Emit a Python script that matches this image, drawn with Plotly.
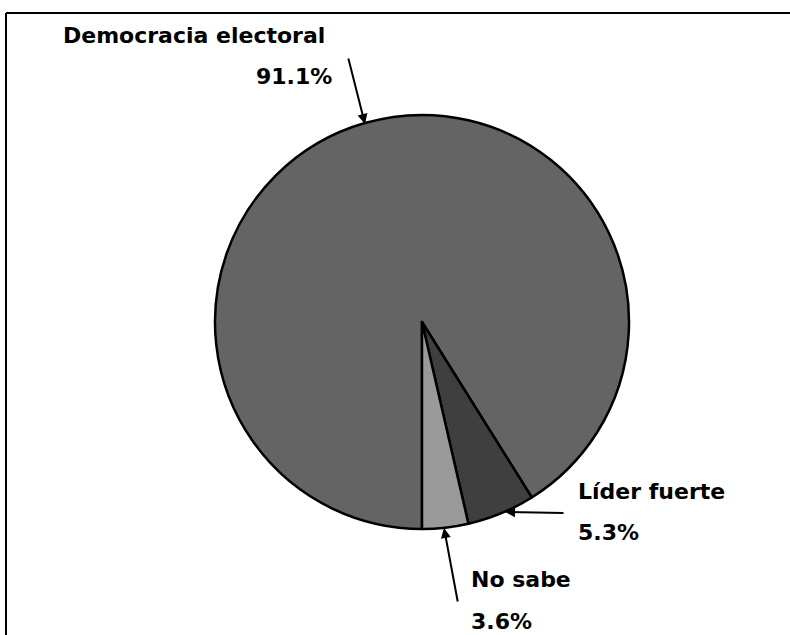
import plotly.graph_objects as go

# Data (clockwise from 6 o'clock)
categories = ["Democracia electoral", "Líder fuerte", "No sabe"]
values = [91.1, 5.3, 3.6]
value_labels = ["91.1%", "5.3%", "3.6%"]
colors = ["#646464", "#3f3f3f", "#9a9a9a"]

W, H = 790, 635
def px(x):
    return x / W
def py(y):
    return 1 - y / H

cx, cy, R = 422, 322, 207

fig = go.Figure()
fig.add_trace(go.Pie(
    labels=categories,
    values=values,
    sort=False,
    direction="clockwise",
    rotation=180,
    textinfo="none",
    hoverinfo="label+percent",
    marker=dict(colors=colors, line=dict(color="black", width=2.5)),
    domain=dict(x=[px(cx - R), px(cx + R)], y=[py(cy + R), py(cy - R)]),
    showlegend=False,
))

font = dict(family="DejaVu Sans", size=22, color="black")

annotations = []
def label(text, x, y, anchor="left"):
    annotations.append(dict(text="<b>" + text + "</b>", x=px(x), y=py(y), xref="paper", yref="paper",
                            xanchor=anchor, yanchor="middle", showarrow=False, font=font))

def arrow(tip_x, tip_y, tail_x, tail_y):
    annotations.append(dict(text="", x=px(tip_x), y=py(tip_y), xref="paper", yref="paper",
                            ax=tail_x - tip_x, ay=tail_y - tip_y, axref="pixel", ayref="pixel",
                            showarrow=True, arrowhead=2, arrowsize=1, arrowwidth=2, arrowcolor="black"))

# Democracia electoral
label(categories[0], 61, 36)
label(value_labels[0], 334, 76, anchor="right")
arrow(365, 124, 348, 57)
# Líder fuerte
label(categories[1], 576, 491)
label(value_labels[1], 576, 532)
arrow(505, 512, 565, 513)
# No sabe
label(categories[2], 469, 579)
label(value_labels[2], 469, 621)
arrow(444, 528, 458, 603)

border = dict(color="black", width=2)
fig.update_layout(
    width=W, height=H,
    margin=dict(l=0, r=0, t=0, b=0),
    paper_bgcolor="white",
    plot_bgcolor="white",
    annotations=annotations,
    shapes=[
        dict(type="line", xref="paper", yref="paper", x0=px(6), y0=py(13), x1=1, y1=py(13), line=border),
        dict(type="line", xref="paper", yref="paper", x0=px(6), y0=py(13), x1=px(6), y1=0, line=border),
    ],
)

fig.write_html("out.html", config={"displayModeBar": False},
               post_script="document.body.style.margin='0';")
